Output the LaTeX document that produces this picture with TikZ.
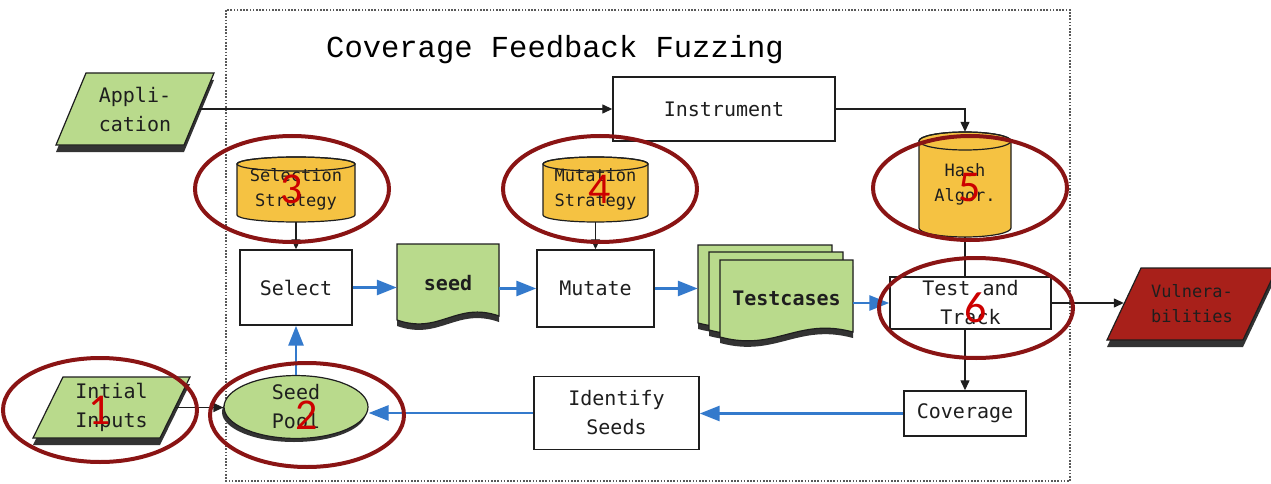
\documentclass[tikz,border=0pt]{standalone}
\usepackage{fontspec}
\usetikzlibrary{shapes.geometric,arrows.meta,calc}
\newfontfamily\labelfont{DejaVu Sans Mono}
\newfontfamily\titlefont{Liberation Mono}
\newfontfamily\numfont{Carlito}
\definecolor{leaf}{RGB}{185,218,140}
\definecolor{amber}{RGB}{245,194,66}
\definecolor{brick}{RGB}{168,32,26}
\definecolor{flow}{RGB}{52,122,204}
\definecolor{ring}{RGB}{138,20,20}
\definecolor{digit}{RGB}{204,0,0}
\definecolor{shade}{RGB}{51,51,51}
\definecolor{ink}{RGB}{30,30,30}

% cylinder: x-left, x-right, top-ellipse centre y, bottom-ellipse centre y, y radius
\newcommand\drum[5]{%
  \pgfmathsetmacro\drumrx{(#2-#1)/2}%
  \path[fill=amber,draw=ink,line width=1.2pt] (#1,#3) -- (#1,#4)
    arc[start angle=180,end angle=360,x radius=\drumrx pt,y radius=#5pt]
    -- (#2,#3)
    arc[start angle=0,end angle=180,x radius=\drumrx pt,y radius=#5pt] -- cycle;
  \draw[ink,line width=1.2pt] ({(#1+#2)/2},#3) ellipse[x radius=\drumrx pt,y radius=#5pt];}

% page with a wavy lower edge: x-left, x-right, top y, lower-left y, lower-right y
\newcommand\pagepath[5]{(#1,#3) -- (#2,#3) -- (#2,#5)
  .. controls ({#1+0.58*(#2-#1)},{#5-15}) and ({#1+0.42*(#2-#1)},{#4+15}) .. (#1,#4) -- cycle}
\newcommand\docpage[5]{%
  \begin{scope}[shift={(0,6)}]\path[fill=shade] \pagepath{#1}{#2}{#3}{#4}{#5};\end{scope}
  \path[fill=leaf,draw=ink,line width=1.2pt] \pagepath{#1}{#2}{#3}{#4}{#5};}

\begin{document}
\begin{tikzpicture}[x=1pt,y=-1pt,
  lbl/.style={font=\labelfont\fontsize{20}{29}\selectfont,align=center,inner sep=0pt,text=ink},
  small/.style={font=\labelfont\fontsize{17}{25}\selectfont},
  box/.style={lbl,draw=ink,line width=1.4pt,fill=white},
  tarr/.style={draw=ink,line width=1.3pt,-{Triangle[length=10pt,width=9pt]}},
  link/.style={draw=ink,line width=1.3pt},
  barr/.style={draw=flow,line width=2.8pt,-{Triangle[length=20pt,width=15pt]}},
  tag/.style={ellipse,draw=ring,line width=4pt,text=digit,
    font=\numfont\fontsize{44}{44}\selectfont,inner sep=0pt},
  frame/.style={draw=black!65,line width=1.6pt,dash pattern=on 1.6pt off 1.6pt}]
\useasboundingbox (0,0) rectangle (1271,484);

% outer loop frame and its title
\draw[frame] (226,10) rectangle (1070,481);
\node[font=\titlefont\fontsize{30.5}{32}\selectfont,anchor=base,inner sep=0pt] (title) at (555,58) {Coverage Feedback Fuzzing};

% input and output parallelograms (with shadows)
\path[fill=shade] (86,80) -- (214,80) -- (184,152) -- (56,152) -- cycle;
\path[fill=leaf,draw=ink,line width=1.2pt] (86,73) -- (214,73) -- (184,145) -- (56,145) -- cycle;
\node[lbl,minimum width=128pt,minimum height=72pt] (app) at (135,109) {Appli-\\cation};

\path[fill=shade] (63,384) -- (190,384) -- (160,445) -- (33,445) -- cycle;
\path[fill=leaf,draw=ink,line width=1.2pt] (63,377) -- (190,377) -- (160,438) -- (33,438) -- cycle;
\node[lbl,minimum width=127pt,minimum height=61pt] (inputs) at (111.5,407.5) {Intial\\Inputs};

\path[fill=shade] (1141,275) -- (1277,275) -- (1243,347) -- (1107,347) -- cycle;
\path[fill=brick,draw=ink,line width=1.2pt] (1141,268) -- (1277,268) -- (1243,340) -- (1107,340) -- cycle;
\node[lbl,small,minimum width=136pt,minimum height=72pt] (vuln) at (1192,304) {Vulnera-\\bilities};

% process boxes
\node[box,minimum width=222pt,minimum height=64pt] (instr) at (724,109) {Instrument};
\node[box,minimum width=112pt,minimum height=75pt] (select) at (296,287.5) {Select};
\node[box,minimum width=117pt,minimum height=77pt] (mutate) at (595.5,288.5) {Mutate};
\node[box,minimum width=161pt,minimum height=52pt] (test) at (970.5,303) {Test and\\Track};
\node[box,minimum width=122pt,minimum height=45pt] (cov) at (965,413.5) {Coverage};
\node[box,minimum width=165pt,minimum height=73pt] (ident) at (616.5,413) {Identify\\Seeds};

% strategy stores
\drum{237}{355}{164}{215}{7}
\node[lbl,small,minimum width=118pt,minimum height=65pt] (selstr) at (296,189.5) {Selection\\Strategy};
\drum{543}{648}{164}{215}{7}
\node[lbl,small,minimum width=105pt,minimum height=65pt] (mutstr) at (595.5,189.5) {Mutation\\Strategy};
\drum{919}{1011}{141}{228}{9}
\node[lbl,small,minimum width=92pt,minimum height=105pt] (hash) at (965,184.5) {Hash\\Algor.};

% seed pool
\path[fill=shade] (294,412) ellipse[x radius=72pt,y radius=30pt];
\node[lbl,ellipse,draw=ink,line width=1.2pt,fill=leaf,minimum width=144pt,minimum height=60pt] (pool) at (296,407) {Seed\\Pool};

% seed and test case pages
\docpage{397}{499}{244}{320}{316}
\node[lbl,font=\labelfont\bfseries\fontsize{20}{29}\selectfont,minimum width=102pt,minimum height=70pt] (seed) at (448,283) {seed};
\docpage{698}{832}{245}{323}{318}
\node[minimum width=134pt,minimum height=76pt,inner sep=0pt] (tback) at (765,283) {};
\docpage{709}{843}{252}{330}{325}
\docpage{720}{853}{260}{337}{332}
\node[lbl,font=\labelfont\bfseries\fontsize{20}{29}\selectfont,minimum width=133pt,minimum height=76pt] (tests) at (786.5,298) {Testcases};

% black control links
\draw[tarr] (app.east) -- (app.east -| instr.west);
\draw[tarr] (instr.east) -| (hash.north);
\draw[link] (hash.south) -- (hash.south |- test.north);
\draw[tarr] (cov.north |- test.south) -- (cov.north);
\draw[tarr] (test.east) -- (test.east -| vuln.west);
\draw[tarr] (selstr.south) -- (select.north);
\draw[tarr] (mutstr.south) -- (mutate.north);
\draw[tarr] (inputs.east) -- (inputs.east -| pool.west);

% blue data flow
\draw[barr] (pool.north) -- (select.south);
\draw[barr] (select.east) -- (select.east -| seed.west);
\draw[barr] (seed.east |- mutate.west) -- (mutate.west);
\draw[barr] (mutate.east) -- (mutate.east -| tback.west);
\draw[barr] (test.west -| tests.east) -- (test.west);
\draw[barr] (cov.west) -- (cov.west -| ident.east);
\draw[barr] (ident.west) -- (ident.west -| pool.east);

% numbered callouts
\node[tag,minimum width=194pt,minimum height=104pt] (m1) at (100,410) {1};
\node[tag,minimum width=194pt,minimum height=104pt] (m2) at (307,415) {2};
\node[tag,minimum width=194pt,minimum height=106pt] (m3) at (292,189) {3};
\node[tag,minimum width=194pt,minimum height=106pt] (m4) at (600,189) {4};
\node[tag,minimum width=194pt,minimum height=104pt] (m5) at (970,188) {5};
\node[tag,minimum width=194pt,minimum height=100pt] (m6) at (976,308) {6};
\end{tikzpicture}
\end{document}
